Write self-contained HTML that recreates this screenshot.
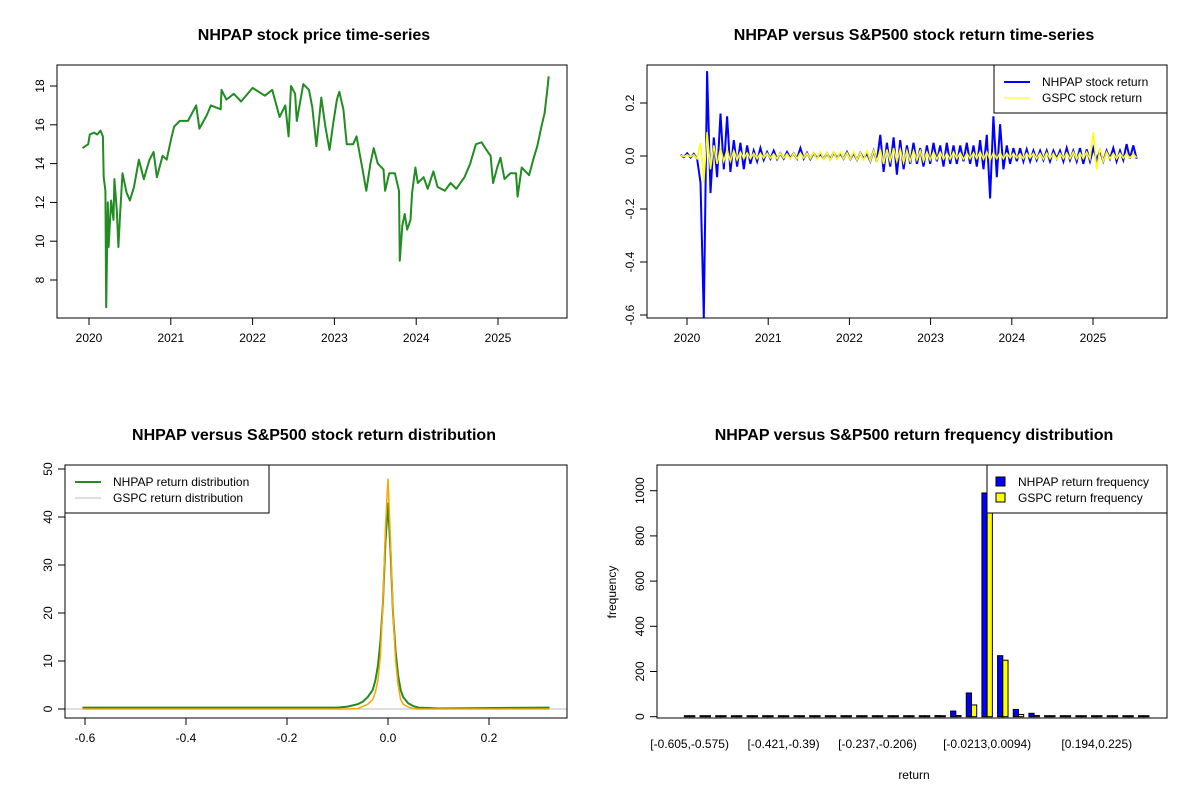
<!DOCTYPE html>
<html><head><meta charset="utf-8">
<style>
body{margin:0;background:#fff;}
svg{display:block;font-family:"Liberation Sans",Arial,sans-serif;}
</style></head>
<body>
<svg id="c" width="1200" height="800" xmlns="http://www.w3.org/2000/svg"></svg>
<script>
// ---------- Panel 1: price ----------
const priceYears=[2019.92,2019.99,2020.01,2020.06,2020.10,2020.14,2020.17,2020.18,2020.20,2020.21,2020.23,2020.24,2020.27,2020.30,2020.31,2020.34,2020.36,2020.38,2020.41,2020.46,2020.50,2020.55,2020.61,2020.67,2020.74,2020.79,2020.83,2020.90,2020.95,2021.00,2021.04,2021.11,2021.21,2021.31,2021.35,2021.44,2021.49,2021.61,2021.62,2021.68,2021.77,2021.86,2022.00,2022.15,2022.24,2022.33,2022.40,2022.44,2022.47,2022.52,2022.54,2022.62,2022.69,2022.73,2022.78,2022.84,2022.89,2022.94,2022.99,2023.03,2023.06,2023.11,2023.15,2023.23,2023.27,2023.34,2023.39,2023.44,2023.48,2023.53,2023.60,2023.62,2023.67,2023.74,2023.79,2023.80,2023.83,2023.86,2023.89,2023.93,2023.95,2023.99,2024.02,2024.09,2024.14,2024.21,2024.26,2024.35,2024.42,2024.49,2024.59,2024.66,2024.73,2024.80,2024.86,2024.91,2024.94,2024.99,2025.03,2025.08,2025.15,2025.22,2025.24,2025.29,2025.38,2025.43,2025.48,2025.53,2025.57,2025.60,2025.62];
const priceValues=[14.8,15.0,15.5,15.6,15.5,15.7,15.4,13.3,12.6,6.6,12.0,9.7,12.1,11.1,13.2,11.6,9.7,11.4,13.5,12.5,12.1,12.8,14.2,13.2,14.2,14.6,13.3,14.4,14.2,15.2,15.9,16.2,16.2,17.0,15.8,16.5,17.0,16.8,17.8,17.3,17.6,17.2,17.9,17.5,17.8,16.4,17.0,15.4,18.0,17.6,16.2,18.1,17.8,16.9,14.9,17.4,15.9,14.7,16.2,17.3,17.7,16.8,15.0,15.0,15.4,13.8,12.6,14.0,14.8,14.0,13.7,12.6,13.5,13.5,12.6,9.0,10.8,11.4,10.6,11.1,12.5,13.8,13.0,13.3,12.7,13.6,12.8,12.6,13.0,12.7,13.3,14.0,15.0,15.1,14.7,14.4,13.0,13.8,14.3,13.2,13.5,13.5,12.3,13.8,13.4,14.2,14.9,15.9,16.6,17.7,18.5];
const yearTicks=[2020,2021,2022,2023,2024,2025];
const priceTicks=[8,10,12,14,16,18];
// ---------- Panel 2: returns ----------
const retStart=2019.92, retStep=0.041;
const nhpapReturns=[0.005,-0.004,0.01,-0.006,0.008,-0.01,-0.1,-0.61,0.32,-0.14,0.07,-0.08,0.16,-0.05,0.15,-0.06,0.06,-0.04,0.05,-0.05,0.04,-0.03,0.02,-0.02,0.03,-0.015,0.015,-0.01,0.02,-0.012,0.01,-0.01,0.015,-0.008,0.01,-0.01,0.03,-0.01,0.012,-0.012,0.01,-0.008,0.008,-0.01,0.01,-0.012,0.012,-0.008,0.01,-0.01,0.015,-0.012,0.01,-0.015,0.012,-0.01,0.01,-0.02,0.02,-0.02,0.08,-0.06,0.05,-0.04,0.07,-0.07,0.06,-0.05,0.04,-0.03,0.05,-0.03,0.03,-0.04,0.04,-0.03,0.05,-0.02,0.04,-0.04,0.05,-0.03,0.04,-0.03,0.04,-0.02,0.05,-0.03,0.04,-0.04,0.06,-0.05,0.08,-0.16,0.15,-0.08,0.12,-0.05,0.04,-0.03,0.03,-0.02,0.03,-0.02,0.025,-0.02,0.02,-0.015,0.02,-0.015,0.02,-0.02,0.02,-0.01,0.02,-0.02,0.03,-0.015,0.02,-0.02,0.03,-0.03,0.025,-0.02,0.03,-0.015,0.02,-0.02,0.02,-0.01,0.03,-0.02,0.02,-0.015,0.045,-0.01,0.04,-0.01];
const gspcReturns=[0.003,-0.002,0.004,-0.003,0.005,-0.01,0.05,-0.1,0.09,-0.05,0.04,-0.03,0.03,-0.02,0.025,-0.02,0.02,-0.015,0.015,-0.01,0.012,-0.01,0.01,-0.01,0.01,-0.008,0.01,-0.008,0.008,-0.01,0.01,-0.008,0.008,-0.01,0.01,-0.01,0.012,-0.008,0.01,-0.01,0.012,-0.012,0.015,-0.012,0.012,-0.015,0.015,-0.012,0.015,-0.01,0.012,-0.012,0.015,-0.015,0.012,-0.015,0.02,-0.02,0.02,-0.02,0.025,-0.03,0.025,-0.02,0.03,-0.02,0.025,-0.025,0.02,-0.02,0.02,-0.015,0.02,-0.02,0.015,-0.015,0.015,-0.012,0.015,-0.012,0.01,-0.012,0.015,-0.01,0.012,-0.012,0.01,-0.01,0.012,-0.01,0.015,-0.012,0.015,-0.015,0.012,-0.01,0.012,-0.01,0.01,-0.008,0.01,-0.008,0.008,-0.01,0.01,-0.008,0.01,-0.01,0.01,-0.012,0.012,-0.01,0.01,-0.012,0.01,-0.01,0.012,-0.01,0.015,-0.012,0.012,-0.01,0.015,-0.012,0.09,-0.05,0.03,-0.02,0.015,-0.01,0.01,-0.01,0.01,-0.008,0.01,-0.008,0.008,-0.006];
const returnTicks=[-0.6,-0.4,-0.2,0.0,0.2];
// ---------- Panel 3: density ----------
const densX=[-0.605,-0.1,-0.08,-0.06,-0.05,-0.04,-0.03,-0.025,-0.02,-0.015,-0.01,-0.005,0,0.005,0.01,0.015,0.02,0.025,0.03,0.04,0.05,0.06,0.08,0.1,0.32];
const densNHPAP=[0.3,0.3,0.5,1,1.5,2.5,4,6,9,14,22,35,43,33,20,12,7,4,2.5,1.2,0.6,0.3,0.2,0.1,0.3];
const densGSPC=[0,0,0,0.1,0.5,1,2,3.5,6,11,22,38,48,35,20,10,5,2,1,0.4,0.1,0,0,0,0];
const densXTicks=[-0.6,-0.4,-0.2,0.0,0.2];
const densYTicks=[0,10,20,30,40,50];
// ---------- Panel 4: histogram ----------
const histNHPAP=[3,0,0,0,0,0,0,0,0,0,0,0,0,0,3,3,5,25,105,990,270,32,15,0,3,3,0,0,0,0];
const histGSPC=[0,0,0,0,0,0,0,0,0,0,0,0,0,0,0,0,0,5,52,1130,250,10,5,0,0,0,0,0,0,0];
const histLabelIdx=[0,6,12,19,26];
const histLabels=["[-0.605,-0.575)","[-0.421,-0.39)","[-0.237,-0.206)","[-0.0213,0.0094)","[0.194,0.225)"];
const freqTicks=[0,200,400,600,800,1000];

const NS="http://www.w3.org/2000/svg";
const svg=document.getElementById('c');
function el(tag,attrs,parent){const e=document.createElementNS(NS,tag);for(const k in attrs)e.setAttribute(k,attrs[k]);(parent||svg).appendChild(e);return e;}
function txt(s,attrs,parent){const t=el('text',attrs,parent);t.textContent=s;return t;}
function lin(d0,d1,r0,r1){return v=>r0+(v-d0)*(r1-r0)/(d1-d0);}
function frame(x0,y0,x1,y1,g){const r=el('rect',{x:x0,y:y0,width:x1-x0,height:y1-y0,fill:'none',stroke:'#000','stroke-width':1},g);}
function xaxis(ticks,sx,y,g,fmt){const a=el('g',{},g);
 el('line',{x1:sx(ticks[0]),x2:sx(ticks[ticks.length-1]),y1:y,y2:y,stroke:'#000'},a);
 ticks.forEach(t=>{el('line',{x1:sx(t),x2:sx(t),y1:y,y2:y+7,stroke:'#000'},a);const l=txt(fmt?fmt(t):String(t),{x:sx(t),y:y+24,'font-size':12,'text-anchor':'middle'},a);});}
function yaxis(ticks,sy,x,g,fmt){const a=el('g',{},g);
 el('line',{x1:x,x2:x,y1:sy(ticks[0]),y2:sy(ticks[ticks.length-1]),stroke:'#000'},a);
 ticks.forEach(t=>{el('line',{x1:x-7,x2:x,y1:sy(t),y2:sy(t),stroke:'#000'},a);const l=txt(fmt?fmt(t):String(t),{x:x-13,y:sy(t),'font-size':12,'text-anchor':'middle',transform:`rotate(-90 ${x-13} ${sy(t)})`},a);});}
function title(s,x,y,g){const t=txt(s,{x:x,y:y,'font-size':16,'font-weight':'bold','text-anchor':'middle'},g);}
function path(xs,ys,sx,sy,attrs,g){let d='';xs.forEach((x,i)=>{d+=(i?'L':'M')+sx(x).toFixed(1)+' '+sy(ys[i]).toFixed(1);});return el('path',Object.assign({d:d,fill:'none'},attrs),g);}

// Panel 1
{const g=el('g',{});
 const sx=lin(2020,2025,89,498), sy=lin(8,18,280,86);
 title('NHPAP stock price time-series',314,40,g);
 const p=path(priceYears,priceValues,sx,sy,{stroke:'#228B22','stroke-width':2,'stroke-linejoin':'round'},g);
 
 frame(57,65,567,318,g);xaxis(yearTicks,sx,318,g);yaxis(priceTicks,sy,57,g);}
// Panel 2
{const g=el('g',{});
 const sx=lin(2020,2025,687,1093), sy=lin(0,0.2,156,103);
 title('NHPAP versus S&P500 stock return time-series',914,40,g);
 const yr=nhpapReturns.map((v,i)=>retStart+i*retStep);
 const p1=path(yr,nhpapReturns,sx,sy,{stroke:'#0000ff','stroke-width':2},g);
 
 const yr2=gspcReturns.map((v,i)=>retStart+i*retStep);
 const p2=path(yr2,gspcReturns,sx,sy,{stroke:'#ffff00','stroke-width':1.5},g);
 
 frame(647,65,1167,318,g);xaxis(yearTicks,sx,318,g);yaxis(returnTicks,sy,647,g,t=>t.toFixed(1));
 const lg=el('g',{},g);
 el('rect',{x:994,y:65,width:173,height:48,fill:'#fff',stroke:'#000'},lg);
 el('line',{x1:1004,x2:1030,y1:82,y2:82,stroke:'#0000ff','stroke-width':2},lg);
 el('line',{x1:1004,x2:1030,y1:98,y2:98,stroke:'#ffff00','stroke-width':1},lg);
 txt('NHPAP stock return',{x:1042,y:86,'font-size':12},lg);
 txt('GSPC stock return',{x:1042,y:102,'font-size':12},lg);}
// Panel 3
{const g=el('g',{});
 const sx=lin(-0.6,0.2,85,489), sy=lin(0,50,709,469);
 title('NHPAP versus S&P500 stock return distribution',314,440,g);
 el('line',{x1:65,x2:567,y1:sy(0),y2:sy(0),stroke:'#bebebe'},g);
 const p1=path(densX,densNHPAP,sx,sy,{stroke:'#228B22','stroke-width':2},g);
 
 const p2=path(densX,densGSPC,sx,sy,{stroke:'#ffa500','stroke-width':1.5},g);
 
 frame(65,465,567,718,g);xaxis(densXTicks,sx,718,g,t=>t.toFixed(1));yaxis(densYTicks,sy,65,g);
 const lg=el('g',{},g);
 el('rect',{x:65,y:465,width:204,height:48,fill:'#fff',stroke:'#000'},lg);
 el('line',{x1:75,x2:101,y1:482,y2:482,stroke:'#228B22','stroke-width':2},lg);
 el('line',{x1:75,x2:101,y1:498,y2:498,stroke:'#bebebe','stroke-width':1},lg);
 txt('NHPAP return distribution',{x:113,y:486,'font-size':12},lg);
 txt('GSPC return distribution',{x:113,y:502,'font-size':12},lg);}
// Panel 4
{const g=el('g',{});
 const unit=5.22, gx=i=>689.6+i*3*unit, sy=lin(0,1000,716.7,490.7);
 title('NHPAP versus S&P500 return frequency distribution',914,440,g);
 el('clipPath',{id:'hc'},g).appendChild(el('rect',{x:657,y:465,width:510,height:253},g));
 const bg=el('g',{'clip-path':'url(#hc)'},g);
 histNHPAP.forEach((v,i)=>{const h=Math.max(1,sy(0)-sy(v));const r=el('rect',{x:gx(i)-unit,y:sy(0)-h,width:unit,height:h,fill:'#0000ff',stroke:'#000','stroke-width':1},bg);
  });
 histGSPC.forEach((v,i)=>{const h=Math.max(1,sy(0)-sy(v));const r=el('rect',{x:gx(i),y:sy(0)-h,width:unit,height:h,fill:'#ffff00',stroke:'#000','stroke-width':1},bg);
  });
 frame(657,465,1167,718,g);
 histLabelIdx.forEach((idx,k)=>{const l=txt(histLabels[k],{x:gx(idx),y:748,'font-size':12,'text-anchor':'middle'},g);});
 yaxis(freqTicks,sy,657,g);
 const yt=txt('frequency',{x:616,y:592,'font-size':12,'text-anchor':'middle',transform:'rotate(-90 616 592)'},g);
 const xt=txt('return',{x:914,y:779,'font-size':12,'text-anchor':'middle'},g);
 const lg=el('g',{},g);
 el('rect',{x:987,y:465,width:180,height:48,fill:'#fff',stroke:'#000'},lg);
 el('rect',{x:996,y:477,width:9,height:9,fill:'#0000ff',stroke:'#000'},lg);
 el('rect',{x:996,y:493,width:9,height:9,fill:'#ffff00',stroke:'#000'},lg);
 txt('NHPAP return frequency',{x:1018,y:486,'font-size':12},lg);
 txt('GSPC return frequency',{x:1018,y:502,'font-size':12},lg);}
</script>
</body></html>
